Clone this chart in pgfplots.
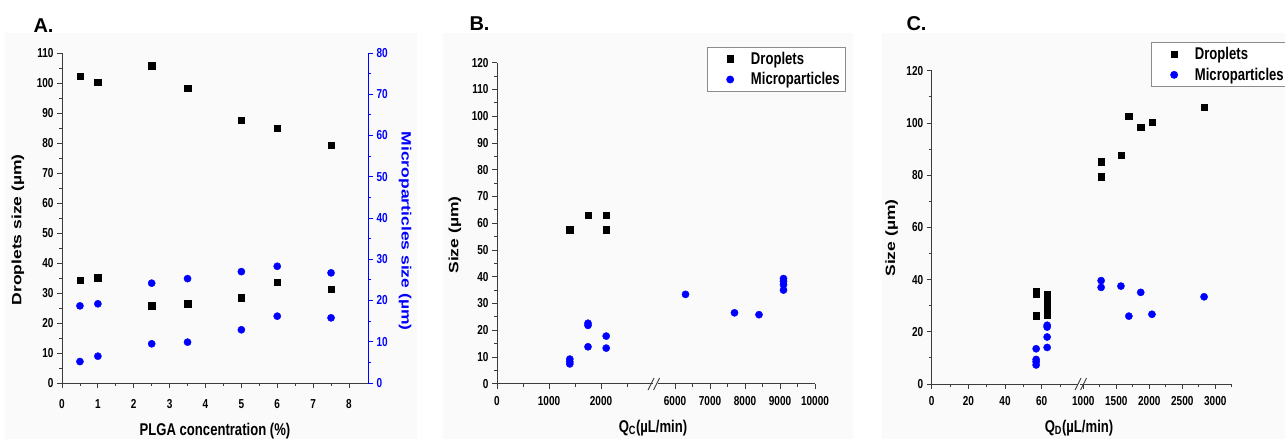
\documentclass[border=0pt]{standalone}
\usepackage{fontspec}
\setmainfont{Liberation Sans}[FakeStretch=0.77]
\newfontfamily\plainfont{Liberation Sans}
\usepackage{pgfplots}
\pgfplotsset{compat=1.18}
\definecolor{mpblue}{RGB}{0,0,255}
\definecolor{axgray}{RGB}{60,60,60}
\definecolor{panelbg}{RGB}{250,250,250}

% rotated labels keep their length, only their thickness is squeezed
\newcommand{\vlab}[1]{\scalebox{1}[0.77]{\plainfont\fontsize{17.5}{17.5}\selectfont\bfseries #1}}

\pgfplotsset{
  base/.style={
    scale only axis, anchor=south west, clip=false,
    /pgf/number format/assume math mode=true,
    /pgf/number format/1000 sep={},
    scaled ticks=false,
    tick align=outside, major tick length=5pt, minor tick length=3pt,
    every tick/.style={axgray, line width=0.8pt},
    axis line style={axgray, line width=0.9pt},
    tick label style={font=\fontsize{13}{13}\selectfont\bfseries},
    label style={font=\fontsize{17}{17}\selectfont\bfseries},
  },
  drop/.style={only marks, mark=square*, mark size=3.2pt, black},
  micro/.style={only marks, mark=*, mark size=3.6pt, mpblue},
  leg/.style={
    legend image code/.code={\path (-18.5pt,0) (18.5pt,0); \draw[##1] plot coordinates {(0pt,0pt)};},
    legend style={draw=black!45, line width=0.6pt, fill=white,
      font=\fontsize{17}{17}\selectfont\bfseries, inner xsep=4pt, inner ysep=2.5pt,
      row sep=3pt, legend cell align=left}},
}

\begin{document}
\begin{tikzpicture}
\useasboundingbox (0,0) rectangle (1285pt,439pt);
% light panel backgrounds
\fill[panelbg] (5pt,0pt) rectangle (417pt,406pt);
\fill[panelbg] (443pt,0pt) rectangle (853pt,406pt);
\fill[panelbg] (882pt,0pt) rectangle (1285pt,406pt);

% ---------------- A ----------------
\node[anchor=west, font=\plainfont\fontsize{20}{20}\selectfont\bfseries] at (30pt,413.5pt) {A.};
\begin{axis}[base, at={(62pt,56pt)}, width=306pt, height=330pt,
  xmin=0, xmax=8.53, ymin=0, ymax=110,
  axis x line*=bottom, axis y line*=left,
  xtick={0,1,...,8}, minor xtick={0.5,1.5,...,7.5},
  ytick={0,10,...,110}, minor ytick={5,15,...,105},
  xticklabel style={yshift=-8pt},
  xlabel={PLGA concentration (\%)},
  ylabel={\vlab{Droplets size (µm)}},
  x label style={at={([yshift=-48pt]axis description cs:0.5,0)}, anchor=center},
  y label style={at={([xshift=-44pt]axis description cs:0,0.464)}, anchor=center},
]
\addplot[drop] coordinates {
  (0.5,102.3) (1,100.3) (2.5,105.8) (3.5,98.2) (5,87.6) (6,85.0) (7.5,79.2)
  (0.5,34.3) (1,35.1) (2.5,25.8) (3.5,26.4) (5,28.4) (6,33.6) (7.5,31.2)
};
\end{axis}
\begin{axis}[base, at={(62pt,56pt)}, width=306pt, height=330pt,
  xmin=0, xmax=8.53, ymin=0, ymax=80,
  axis x line=none, axis y line*=right, xtick=\empty,
  ytick={0,10,...,80}, minor ytick={5,15,...,75},
  axis line style={mpblue, line width=0.9pt},
  every tick/.style={mpblue, line width=0.8pt},
  yticklabel style={mpblue},
  ylabel={\vlab{Microparticles size (µm)}},
  y label style={mpblue, at={([xshift=37pt]axis description cs:1,0.46)}, anchor=center, rotate=180},
]
\addplot[micro] coordinates {
  (0.5,18.7) (0.5,5.2) (1,19.2) (1,6.5) (2.5,24.2) (2.5,9.5) (3.5,25.3) (3.5,9.9)
  (5,27.0) (5,12.9) (6,28.3) (6,16.2) (7.5,26.7) (7.5,15.8)
};
\end{axis}

% ---------------- B ----------------
\node[anchor=west, font=\plainfont\fontsize{20}{20}\selectfont\bfseries] at (466pt,415.5pt) {B.};
\begin{axis}[base, at={(497pt,55.3pt)}, width=156pt, height=321pt,
  xmin=0, xmax=3000, ymin=0, ymax=120,
  axis x line*=bottom, axis y line*=left,
  xtick={0,1000,2000}, minor xtick={500,1500,2500},
  ytick={0,10,...,120}, minor ytick={5,15,...,115},
  xticklabel style={yshift=-4pt},
  ylabel={\vlab{Size (µm)}},
  y label style={at={([xshift=-42pt]axis description cs:0,0.463)}, anchor=center},
]
\addplot[drop] coordinates {(1400,57.5) (1750,63.1) (2100,63.1) (2100,57.5)};
\addplot[micro] coordinates {
  (1400,9.2) (1400,8.2) (1400,7.4) (1750,22.6) (1750,21.8) (1750,13.8)
  (2100,17.8) (2100,13.3)
};
\end{axis}
\begin{axis}[base, leg, at={(657.5pt,55.3pt)}, width=157.5pt, height=321pt,
  xmin=5500, xmax=10000, ymin=0, ymax=120,
  axis x line*=bottom, axis y line=none, ytick=\empty,
  xtick={6000,7000,...,10000}, minor xtick={6500,7500,8500,9500},
  xticklabel style={yshift=-4pt},
  legend style={at={(1.197,1.049)}, anchor=north east},
]
\addlegendimage{drop}
\addlegendentry{Droplets}
\addplot[micro] coordinates {
  (6300,33.4) (7700,26.5) (8400,25.8) (9100,39.3) (9100,38.3) (9100,37.0) (9100,35.0)
};
\addlegendentry{Microparticles}
\end{axis}
\draw[axgray, line width=0.9pt] (648pt,49pt) -- (654pt,61pt) (653.5pt,49pt) -- (659.5pt,61pt);
\node[font=\fontsize{17}{17}\selectfont\bfseries] at (653pt,11pt) {Q\textsubscript{C}(µL/min)};

% ---------------- C ----------------
\node[anchor=west, font=\plainfont\fontsize{20}{20}\selectfont\bfseries] at (903pt,415pt) {C.};
\begin{axis}[base, at={(931.7pt,55pt)}, width=146.6pt, height=313.3pt,
  xmin=0, xmax=80, ymin=0, ymax=120,
  axis x line*=bottom, axis y line*=left,
  xtick={0,20,40,60}, minor xtick={10,30,50,70},
  ytick={0,20,...,120}, minor ytick={10,30,...,110},
  xticklabel style={yshift=-4pt},
  ylabel={\vlab{Size (µm)}},
  y label style={at={([xshift=-40pt]axis description cs:0,0.466)}, anchor=center},
]
\addplot[drop] coordinates {
  (57,35.3) (57,34.5) (57,26.1)
  (63,34.2) (63,32.5) (63,30.8) (63,29.0) (63,27.3) (63,26.4)
};
\addplot[micro] coordinates {
  (57,13.5) (57,9.4) (57,8.5) (57,7.3) (63,22.5) (63,21.8) (63,18.0) (63,14.0)
};
\end{axis}
\begin{axis}[base, leg, at={(1080pt,55pt)}, width=151.8pt, height=313.3pt,
  xmin=950, xmax=3250, ymin=0, ymax=120,
  axis x line*=bottom, axis y line=none, ytick=\empty,
  xtick={1000,1500,...,3000}, minor xtick={1250,1750,...,3250},
  xticklabel style={yshift=-4pt},
  legend style={at={(0.468,1.0906)}, anchor=north west},
]
\addplot[drop] coordinates {
  (1270,85.1) (1270,79.4) (1570,87.6) (1690,102.5) (1870,98.3) (2040,100.3) (2830,106.0)
};
\addlegendentry{Droplets}
\addplot[micro] coordinates {
  (1270,39.6) (1270,37.0) (1570,37.5) (1690,26.0) (1870,35.1) (2040,26.7) (2830,33.4)
};
\addlegendentry{Microparticles}
\end{axis}
\draw[axgray, line width=0.9pt] (1075pt,49pt) -- (1081pt,61pt) (1080.5pt,49pt) -- (1086.5pt,61pt);
\node[font=\fontsize{17}{17}\selectfont\bfseries] at (1079pt,11pt) {Q\textsubscript{D}(µL/min)};
\end{tikzpicture}
\end{document}
